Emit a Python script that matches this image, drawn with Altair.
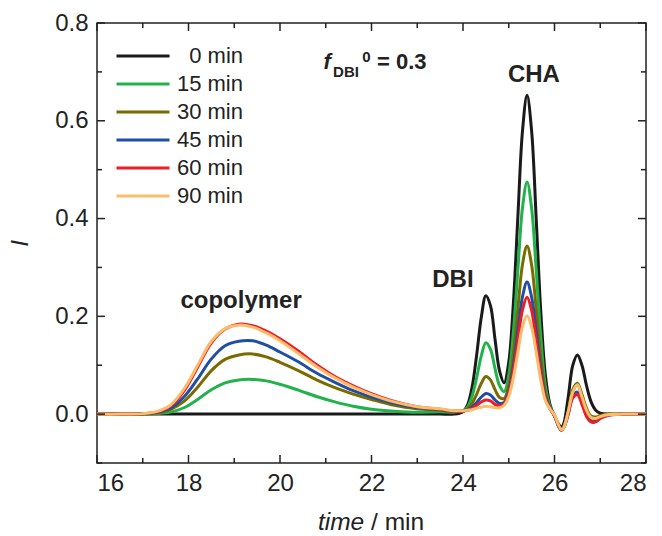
import altair as alt
import pandas as pd

FONT = "Liberation Sans"

# ---------------- data ----------------
TIME = [16.0, 16.5, 17.0, 17.3, 17.6, 17.9, 18.2, 18.5, 18.8, 19.1, 19.4, 19.7,
        20.0, 20.4, 20.8, 21.2, 21.6, 22.0, 22.5, 23.0, 23.5, 23.8,
        24.0, 24.1, 24.2, 24.3, 24.4, 24.5, 24.6, 24.7, 24.8, 24.9,
        25.0, 25.1, 25.2, 25.3, 25.4, 25.5, 25.6, 25.7, 25.8, 25.9,
        26.0, 26.1, 26.15, 26.2, 26.3, 26.4, 26.5, 26.6, 26.7, 26.8, 26.9,
        27.0, 27.2, 27.5, 28.0]

I_0 = [0, 0, 0, 0, 0, 0, 0, 0, 0, 0, 0, 0,
       0, 0, 0, 0, 0, 0, 0, 0, 0, 0,
       .005, .019, .056, .122, .198, .242, .222, .153, .088, .064,
       .106, .225, .405, .579, .652, .579, .400, .210, .080, .020,
       -.004, -.022, -.027, -.020, .035, .100, .121, .100, .058, .025, .008,
       .002, 0, 0, 0]

I_15 = [0, 0, 0, .001, .004, .013, .030, .050, .064, .070, .071, .068,
        .061, .049, .036, .025, .016, .010, .006, .004, .005, .004,
        .007, .015, .037, .075, .119, .146, .133, .093, .058, .046,
        .080, .167, .296, .422, .475, .421, .295, .158, .058, .016,
        -.003, -.026, -.032, -.026, .004, .047, .060, .037, .008, -.010, -.011,
        -.006, -.001, 0, 0]

I_30 = [0, 0, 0, .002, .009, .026, .055, .089, .112, .121, .123, .117,
        .106, .089, .070, .054, .041, .030, .018, .011, .008, .006,
        .006, .011, .022, .041, .063, .077, .070, .050, .034, .032,
        .058, .122, .216, .306, .344, .305, .215, .116, .044, .013,
        -.003, -.026, -.032, -.026, .005, .050, .063, .040, .012, -.004, -.006,
        -.003, 0, 0, 0]

I_45 = [0, 0, .001, .003, .012, .035, .072, .113, .140, .149, .150, .141,
        .127, .107, .084, .065, .048, .035, .022, .013, .009, .006,
        .007, .009, .014, .024, .035, .042, .039, .029, .022, .024,
        .047, .097, .170, .240, .270, .239, .169, .092, .036, .012,
        -.003, -.027, -.033, -.028, .000, .037, .045, .024, -.002, -.015, -.015,
        -.008, -.002, 0, 0]

I_60 = [0, 0, .001, .004, .016, .047, .096, .146, .174, .184, .181, .170,
        .154, .129, .101, .077, .058, .042, .026, .015, .010, .006,
        .006, .008, .011, .018, .025, .029, .027, .020, .017, .021,
        .042, .086, .151, .213, .239, .212, .150, .082, .032, .011,
        -.003, -.027, -.033, -.028, .000, .033, .040, .020, -.005, -.016, -.016,
        -.009, -.002, 0, 0]

I_90 = [0, 0, .001, .005, .018, .051, .100, .149, .175, .182, .178, .166,
        .150, .124, .097, .074, .055, .040, .025, .015, .011, .007,
        .007, .008, .009, .012, .014, .016, .015, .013, .013, .018,
        .036, .074, .127, .179, .201, .178, .126, .070, .028, .011,
        -.002, -.025, -.032, -.028, .005, .045, .060, .035, .008, -.007, -.009,
        -.005, -.001, 0, 0]

SERIES = ["0 min", "15 min", "30 min", "45 min", "60 min", "90 min"]
VALUES = [I_0, I_15, I_30, I_45, I_60, I_90]
COLORS = ["#1a1a1a", "#22b24c", "#7a6a00", "#1f4ea5", "#ec1c28", "#fbbd6c"]

X_TICKS = [16, 18, 20, 22, 24, 26, 28]
X_MINOR = [17, 19, 21, 23, 25, 27]
Y_TICKS = [0.0, 0.2, 0.4, 0.6, 0.8]
Y_MINOR = [-0.1, 0.1, 0.3, 0.5, 0.7]

# annotation labels (data coordinates)
PEAK_TEXT = ["copolymer", "DBI", "CHA"]
PEAK_X = [19.15, 23.78, 25.55]
PEAK_Y = [0.217, 0.26, 0.679]

# ---------------- build table ----------------
rows = []
for k, (name, vals) in enumerate(zip(SERIES, VALUES)):
    assert len(vals) == len(TIME), name
    for t, v in zip(TIME, vals):
        rows.append({"time": t, "I": v, "series": name, "k": k})
df = pd.DataFrame(rows)

W, H = 549, 440
AXC = "#222222"
xs = alt.Scale(domain=[16, 28], nice=False, zero=False)
ys = alt.Scale(domain=[-0.1, 0.8], nice=False, zero=False)

XAX = alt.Axis(values=X_TICKS, format="d", ticks=False, domain=False, grid=False,
               labelFontSize=24, labelFont=FONT, labelColor=AXC, labelPadding=8, title=None)
YAX = alt.Axis(values=Y_TICKS, format=".1f", ticks=False, domain=False, grid=False,
               labelFontSize=24, labelFont=FONT, labelColor=AXC, labelPadding=9,
               title="I", titleFont=FONT, titleFontSize=24, titleFontStyle="italic",
               titleFontWeight="normal", titleColor=AXC, titlePadding=22)

def X():
    return alt.X("time:Q", scale=xs, axis=XAX)

def Y():
    return alt.Y("I:Q", scale=ys, axis=YAX)

lines = alt.Chart(df).mark_line(strokeWidth=3, interpolate="catmull-rom").encode(
    x=X(), y=Y(),
    color=alt.Color("series:N", scale=alt.Scale(domain=SERIES, range=COLORS),
                    legend=alt.Legend(title=None, orient="none", legendX=18, legendY=19.5,
                                      symbolType="stroke", symbolSize=2809, symbolStrokeWidth=3,
                                      labelFontSize=22, labelFont=FONT, labelColor=AXC,
                                      labelAlign="right", labelOffset=72,
                                      clipHeight=27.2, rowPadding=0, padding=0)),
)

def xrule(vals, y0, y1):
    d = pd.DataFrame({"time": vals})
    return alt.Chart(d).mark_rule(color=AXC, strokeWidth=1.5).encode(
        x=X(), y=alt.value(y0), y2=alt.value(y1))

def yrule(vals, x0, x1):
    d = pd.DataFrame({"I": vals})
    return alt.Chart(d).mark_rule(color=AXC, strokeWidth=1.5).encode(
        y=Y(), x=alt.value(x0), x2=alt.value(x1))

MAJ, MIN = 8, 5
ticks = [
    xrule(X_TICKS, H, H - MAJ), xrule(X_MINOR, H, H - MIN),
    xrule(X_TICKS, 0, MAJ), xrule(X_MINOR, 0, MIN),
    yrule(Y_TICKS, 0, MAJ), yrule(Y_MINOR, 0, MIN),
    yrule(Y_TICKS, W, W - MAJ), yrule(Y_MINOR, W, W - MIN),
]

def text_layer(texts, xv, yv, **kw):
    d = pd.DataFrame({"time": xv, "I": yv, "label": texts})
    return alt.Chart(d).mark_text(font=FONT, color=AXC, baseline="alphabetic", **kw).encode(
        x=X(), y=Y(), text="label:N")

peaks = text_layer(PEAK_TEXT, PEAK_X, PEAK_Y, fontSize=24, fontWeight="bold", align="center")
f_main = text_layer(["f"], [20.95], [0.7057], fontSize=22, fontWeight="bold", fontStyle="italic", align="left")
f_sub = text_layer(["DBI"], [21.16], [0.690], fontSize=15, fontWeight="bold", align="left")
f_sup = text_layer(["0"], [21.80], [0.720], fontSize=15, fontWeight="bold", align="left")
f_eq = text_layer(["= 0.3"], [22.12], [0.7057], fontSize=22, fontWeight="bold", align="left")
xt_it = text_layer(["time"], [21.84], [-0.238], fontSize=24.5, fontStyle="italic", align="right")
xt_rm = text_layer(["/ min"], [21.99], [-0.238], fontSize=24.5, align="left")

chart = alt.layer(lines, *ticks, peaks, f_main, f_sub, f_sup, f_eq, xt_it, xt_rm).properties(
    width=W, height=H,
    padding={"left": 97, "top": 23, "right": 16, "bottom": 73},
    autosize=alt.AutoSizeParams(type="none"),
    background="white",
).configure_view(stroke=AXC, strokeWidth=1.5)

chart.save("out.html", embed_options={"renderer": "svg", "actions": False})
